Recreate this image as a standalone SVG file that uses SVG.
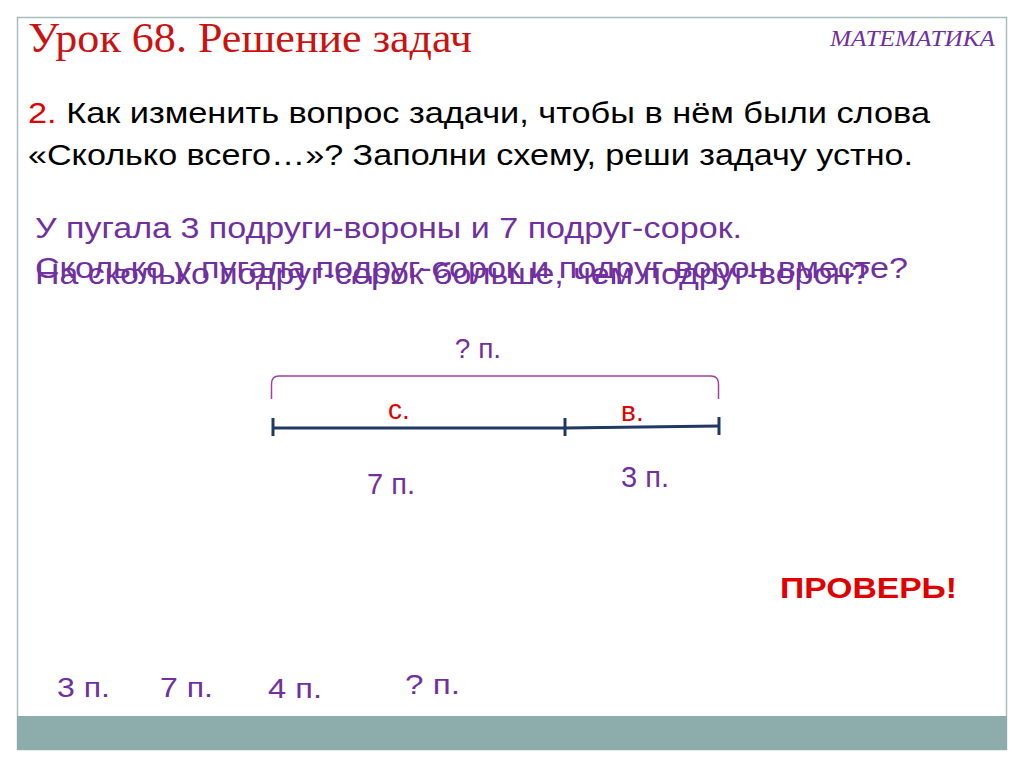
<svg xmlns="http://www.w3.org/2000/svg" width="1024" height="768" viewBox="0 0 1024 768">
<style>
.sans{font-family:"Liberation Sans",Arial,sans-serif}
.serif{font-family:"Liberation Serif","Times New Roman",serif}
.pur{fill:#7030A0}
.red{fill:#E00000}
.seg{stroke:#1F3864;stroke-width:3;fill:none}
</style>
<rect x="0" y="0" width="1024" height="768" fill="#fff"/>
<rect x="17.5" y="17.5" width="989" height="732" fill="#fff" stroke="#A9BEBE" stroke-width="1.5"/>
<rect x="17" y="716" width="990" height="34" fill="#8DADAD"/>
<g id="title">
<text class="serif" x="28" y="52" font-size="42" fill="#CC1111" textLength="444" lengthAdjust="spacingAndGlyphs">Урок 68. Решение задач</text>
<text class="serif" x="830" y="46" font-size="23" font-style="italic" fill="#7030A0" textLength="165" lengthAdjust="spacingAndGlyphs">МАТЕМАТИКА</text>
</g>
<g id="task" class="sans" font-size="29">
<text x="28" y="123" textLength="902" lengthAdjust="spacingAndGlyphs"><tspan fill="#E00000">2.</tspan><tspan fill="#000"> Как изменить вопрос задачи, чтобы в нём были слова</tspan></text>
<text x="28" y="165" fill="#000" textLength="885" lengthAdjust="spacingAndGlyphs">«Сколько всего…»? Заполни схему, реши задачу устно.</text>
</g>
<g id="problem" class="sans pur" font-size="30">
<text x="35" y="238" textLength="707" lengthAdjust="spacingAndGlyphs">У пугала 3 подруги-вороны и 7 подруг-сорок.</text>
<text x="35" y="278" textLength="873" lengthAdjust="spacingAndGlyphs">Сколько у пугала подруг-сорок и подруг-ворон вместе?</text>
<text x="35" y="284" textLength="835" lengthAdjust="spacingAndGlyphs">На сколько подруг-сорок больше, чем подруг-ворон?</text>
</g>
<g id="scheme">
<text class="sans pur" x="478" y="358" font-size="28" text-anchor="middle">? п.</text>
<path d="M271.5 399 V384 Q271.5 376 279 376 H711 Q718.5 376 718.5 384 V399" fill="none" stroke="#A040A0" stroke-width="1.5"/>
<g id="connectors">
<line class="seg" x1="272" y1="428" x2="565" y2="428"/>
<line class="seg" x1="565" y1="428" x2="719" y2="426"/>
<line class="seg" x1="273" y1="418" x2="273" y2="436"/>
<line class="seg" x1="565" y1="418" x2="565" y2="436"/>
<line class="seg" x1="719" y1="417" x2="719" y2="435"/>
</g>
<text class="sans red" x="388" y="419" font-size="28">с.</text>
<text class="sans red" x="621" y="421" font-size="28">в.</text>
<text class="sans pur" x="367" y="494" font-size="29">7 п.</text>
<text class="sans pur" x="621" y="487" font-size="29">3 п.</text>
</g>
<g id="check">
<text class="sans red" x="780" y="598" font-size="30" font-weight="bold" textLength="177" lengthAdjust="spacingAndGlyphs">ПРОВЕРЬ!</text>
</g>
<g id="answers" class="sans pur" font-size="28">
<text x="57" y="697" textLength="53" lengthAdjust="spacingAndGlyphs">3 п.</text>
<text x="160" y="697" textLength="53" lengthAdjust="spacingAndGlyphs">7 п.</text>
<text x="268" y="698" textLength="54" lengthAdjust="spacingAndGlyphs">4 п.</text>
<text x="405" y="694" textLength="55" lengthAdjust="spacingAndGlyphs">? п.</text>
</g>
</svg>
